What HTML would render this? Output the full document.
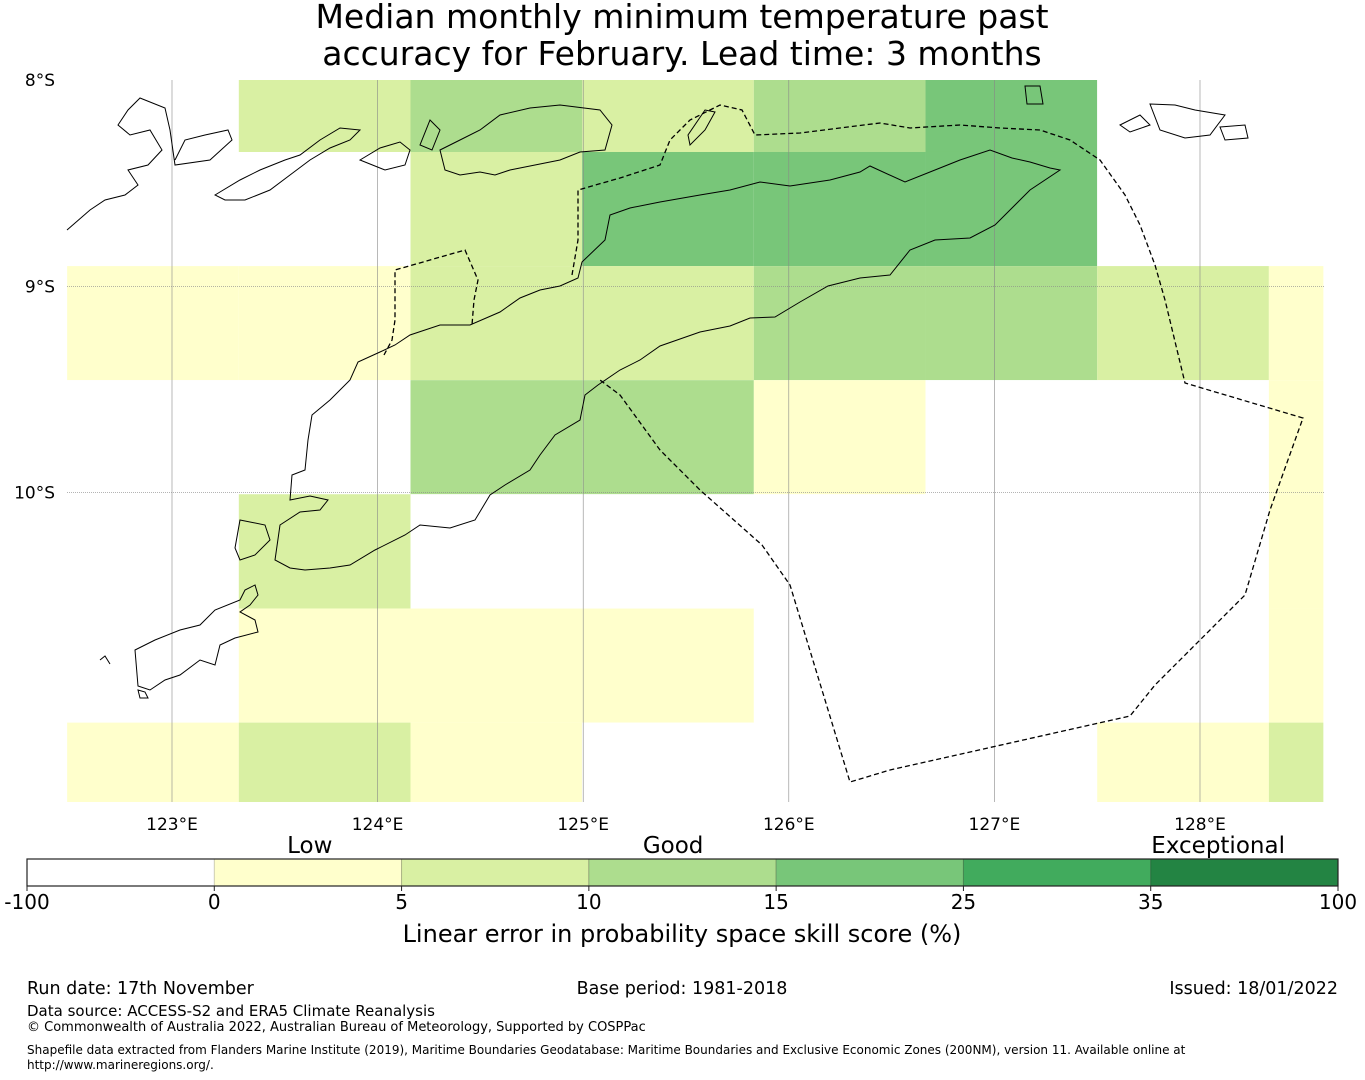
<!DOCTYPE html>
<html><head><meta charset="utf-8">
<style>
html,body{margin:0;padding:0;background:#fff;width:1365px;height:1080px;overflow:hidden}
svg{display:block;font-family:"DejaVu Sans","Liberation Sans",sans-serif}
</style></head>
<body>
<svg id="chart" width="1365" height="1080" viewBox="0 0 1365 1080">
<g font-size="33" text-anchor="middle" fill="#000">
<text x="682" y="28">Median monthly minimum temperature past</text>
<text x="682" y="65">accuracy for February. Lead time: 3 months</text>
</g>
<g id="cells"></g>
<g id="grid"></g>
<g fill="none" stroke="#000" stroke-width="1">
<path d="M290,500 L292,475 L305,470 L308,440 L312,415 L330,400 L350,380 L358,362 L380,352 L395,345 L410,335 L440,325 L470,325 L500,312 L520,298 L540,290 L560,286 L578,278 L582,262 L605,240 L610,215 L630,208 L660,202 L700,195 L730,190 L760,182 L790,186 L830,180 L860,172 L870,166 L905,182 L940,168 L960,160 L990,150 L1012,158 L1030,162 L1050,168 L1060,170 L1030,190 L1020,200 L995,225 L970,238 L935,240 L910,250 L890,275 L860,278 L828,286 L800,302 L775,317 L750,318 L730,326 L700,332 L660,346 L640,360 L620,370 L598,385 L585,395 L580,420 L555,435 L540,455 L530,470 L505,485 L490,495 L475,520 L450,528 L420,525 L405,535 L375,550 L350,565 L330,568 L305,570 L290,568 L275,560 L280,525 L300,512 L320,510 L328,500 L310,496 Z"/>
<path d="M67,230 L90,210 L105,200 L125,195 L138,185 L128,170 L148,165 L162,150 L150,130 L130,135 L118,125 L128,110 L140,98 L165,108 L170,130 L175,165 L210,160 L232,140 L228,130 L205,135 L185,140 L175,160 M215,195 L240,180 L260,170 L285,160 L300,155 L320,140 L340,128 L360,130 L350,140 L330,148 L310,160 L290,175 L270,190 L245,200 L225,200 Z M360,160 L380,148 L400,142 L410,150 L405,165 L385,170 Z"/>
<path d="M440,150 L460,140 L480,130 L500,115 L530,108 L560,105 L600,110 L612,125 L605,150 L580,152 L560,160 L535,165 L510,170 L495,175 L480,172 L460,175 L445,170 Z M430,120 L440,130 L432,150 L420,145 Z"/>
<path d="M705,110 L715,112 L705,130 L690,145 L688,135 Z"/>
<path d="M1025,86 L1040,86 L1043,104 L1027,104 Z M1150,104 L1175,105 L1195,110 L1225,115 L1210,135 L1185,138 L1160,130 Z M1120,125 L1140,115 L1150,125 L1130,132 Z M1220,127 L1245,125 L1248,138 L1225,140 Z"/>
<path d="M100,660 L105,656 L110,664 M135,650 L155,640 L180,630 L200,625 L215,610 L240,600 L245,590 L255,585 L258,595 L250,605 L240,612 L255,620 L258,632 L235,638 L220,645 L215,665 L200,660 L180,675 L165,680 L150,690 L138,686 Z M138,690 L145,692 L148,698 L140,698 Z M240,520 L265,525 L270,540 L255,555 L240,560 L235,548 Z"/>
</g>
<g fill="none" stroke="#000" stroke-width="1.3" stroke-dasharray="5,3">
<path d="M572,275 L578,240 L578,190 L620,178 L660,165 L670,140 L690,120 L720,105 L742,110 L755,135 L800,133 L880,123 L910,128 L960,125 L1000,128 L1040,130 L1070,140 L1100,160 L1125,195 L1140,225 L1155,265 L1165,300 L1185,383 L1303,418 L1270,510 L1245,595 L1200,640 L1155,685 L1130,716 L890,770 L850,782 L790,585 L762,545 L700,490 L660,450 L620,395 L600,380"/>
<path d="M384,355 L392,340 L395,320 L395,270 L465,250 L478,280 L474,300 L472,325"/>
</g>
<g id="axes"></g>
<g id="cbar"></g>
<g fill="#000">
<text x="27" y="994" font-size="17.5">Run date: 17th November</text>
<text x="682" y="994" font-size="17.5" text-anchor="middle">Base period: 1981-2018</text>
<text x="1338" y="994" font-size="17.5" text-anchor="end">Issued: 18/01/2022</text>
<text x="27" y="1016" font-size="15">Data source: ACCESS-S2 and ERA5 Climate Reanalysis</text>
<text x="27" y="1031" font-size="13">© Commonwealth of Australia 2022, Australian Bureau of Meteorology, Supported by COSPPac</text>
<text x="27" y="1054" font-size="12">Shapefile data extracted from Flanders Marine Institute (2019), Maritime Boundaries Geodatabase: Maritime Boundaries and Exclusive Economic Zones (200NM), version 11. Available online at</text>
<text x="27" y="1069" font-size="12">http://www.marineregions.org/.</text>
</g>
</svg>
<script>
const NS='http://www.w3.org/2000/svg';
// data
const lonTicks=[123,124,125,126,127,128];
const latTicks=[8,9,10];
const cellLonEdges=[122.49,123.325,124.16,124.995,125.83,126.665,127.5,128.335,128.6];
const cellLatEdges=[8.0,8.349,8.902,9.455,10.008,10.562,11.115,11.5];
const skillRow0=[-10,7,12,7,12,20,-10,-10];
const skillRow1=[-10,-10,7,20,20,20,-10,-10];
const skillRow2=[2,2,7,7,12,12,7,2];
const skillRow3=[-10,-10,12,12,2,-10,-10,2];
const skillRow4=[-10,7,-10,-10,-10,-10,-10,2];
const skillRow5=[-10,2,2,2,-10,-10,-10,2];
const skillRow6=[2,7,2,-10,-10,-10,2,7];
const binEdges=[-100,0,5,10,15,25,35,100];
const binColors=['#ffffff','#ffffcc','#d9f0a3','#addd8e','#78c679','#41ab5d','#238443'];
const qualityLabels=['Low','Good','Exceptional'];
const qualityPos=[1.51,3.45,6.36];

const xOf=lon=>172+(lon-123)*205.6;
const yOf=lat=>80+(lat-8)*206.3;
const mapL=67,mapR=1324,mapT=80,mapB=802;
function el(tag,attrs,parent){const e=document.createElementNS(NS,tag);for(const k in attrs)e.setAttribute(k,attrs[k]);parent.appendChild(e);return e;}
function colorFor(v){for(let i=0;i<binColors.length;i++){if(v<binEdges[i+1])return binColors[i];}return binColors[binColors.length-1];}

const cells=document.getElementById('cells');
const rows=[skillRow0,skillRow1,skillRow2,skillRow3,skillRow4,skillRow5,skillRow6];
rows.forEach((row,r)=>row.forEach((v,c)=>{
  const x0=Math.max(mapL,xOf(cellLonEdges[c])),x1=Math.min(mapR,xOf(cellLonEdges[c+1]));
  const y0=Math.max(mapT,yOf(cellLatEdges[r])),y1=Math.min(mapB,yOf(cellLatEdges[r+1]));
  const rc=el('rect',{x:x0,y:y0,width:x1-x0,height:y1-y0,fill:colorFor(v)},cells);
  
  
}));

const grid=document.getElementById('grid');
lonTicks.forEach(l=>{
  const ln=el('line',{x1:xOf(l),x2:xOf(l),y1:mapT,y2:mapB,stroke:'#888','stroke-width':0.6},grid);
  
  
});
latTicks.forEach(l=>{
  if(yOf(l)<=mapT+1) return;
  const ln=el('line',{x1:mapL,x2:mapR,y1:yOf(l),y2:yOf(l),stroke:'#888','stroke-width':0.6,'stroke-dasharray':'1,1'},grid);
  
  
});

const axes=document.getElementById('axes');
lonTicks.forEach(l=>{
  const t=el('text',{x:xOf(l),y:830,'font-size':17,'text-anchor':'middle'},axes);
  t.textContent=l+'°E';
  
  
});
latTicks.forEach(l=>{
  const t=el('text',{x:55,y:yOf(l)+6,'font-size':17,'text-anchor':'end'},axes);
  t.textContent=l+'°S';
  
  
});

const cb=document.getElementById('cbar');
const cbL=27,cbR=1338,cbT=859,cbB=886,segW=(cbR-cbL)/binColors.length;
binColors.forEach((c,i)=>{
  const r=el('rect',{x:cbL+i*segW,y:cbT,width:segW,height:cbB-cbT,fill:c,stroke:i?'rgba(0,0,0,0.2)':'none'},cb);
  
  
});
el('rect',{x:cbL,y:cbT,width:cbR-cbL,height:cbB-cbT,fill:'none',stroke:'#222','stroke-width':1.2},cb);
binEdges.forEach((b,i)=>{
  const x=cbL+i*segW;
  el('line',{x1:x,x2:x,y1:cbB,y2:cbB+5,stroke:'#222'},cb);
  const t=el('text',{x:x,y:909,'font-size':20,'text-anchor':'middle'},cb);
  t.textContent=b;
  
  
});
qualityLabels.forEach((q,i)=>{
  const t=el('text',{x:cbL+qualityPos[i]*segW,y:853,'font-size':23,'text-anchor':'middle'},cb);
  t.textContent=q;
  
  
});
const ttl=el('text',{x:682,y:942,'font-size':24,'text-anchor':'middle'},cb);
ttl.textContent='Linear error in probability space skill score (%)';


</script>
</body></html>
